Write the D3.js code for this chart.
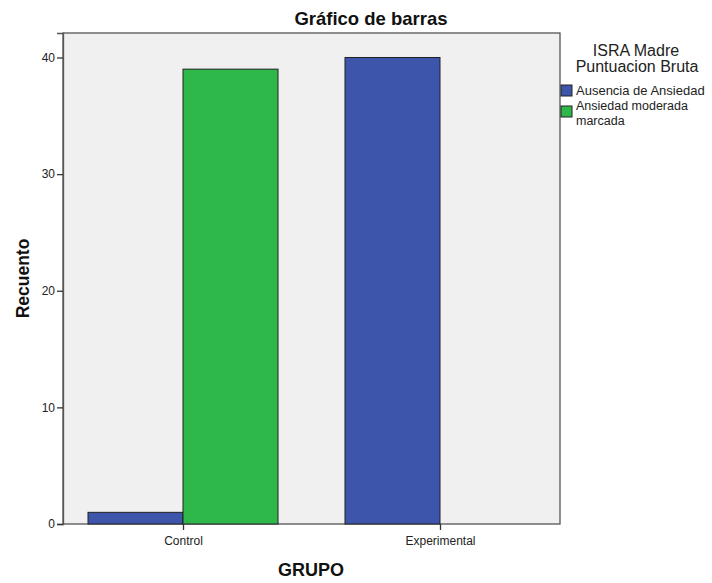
<!DOCTYPE html>
<html><head><meta charset="utf-8">
<script src="https://cdn.jsdelivr.net/npm/d3@7"></script>
<style>body{margin:0;background:#fff;font-family:"Liberation Sans",Arial,sans-serif;}</style>
</head><body>
<svg id="c" width="712" height="583"></svg>
<script>
const categories = ["Control", "Experimental"];
const seriesNames = ["Ausencia de Ansiedad", "Ansiedad moderada marcada"];
const ausencia = [1, 40];
const moderada = [39, 0];
const yTicks = [0, 10, 20, 30, 40];
const colors = ["#3d56ab", "#2eb84a"];

const svg = d3.select("#c");
const L = 63, R = 560, T = 33, B = 524;

const x = d3.scalePoint().domain(categories).range([L, R]).padding(0.467);
const sub = d3.scaleBand().domain(seriesNames).range([-95, 95]).padding(0);
const y = d3.scaleLinear().domain([0, 42.1]).range([B, T]);

svg.append("rect").attr("x", L).attr("y", T).attr("width", R - L).attr("height", B - T)
  .attr("fill", "#f0f0f0").attr("stroke", "#555").attr("stroke-width", 1.3);

const data = [];
categories.forEach((c, i) => {
  data.push({cat: c, s: seriesNames[0], v: ausencia[i], col: colors[0]});
  data.push({cat: c, s: seriesNames[1], v: moderada[i], col: colors[1]});
});

svg.append("g").selectAll("rect").data(data.filter(d => d.v > 0)).join("rect")
  .attr("x", d => x(d.cat) + sub(d.s))
  .attr("y", d => y(d.v))
  .attr("width", sub.bandwidth())
  .attr("height", d => y(0) - y(d.v))
  .attr("fill", d => d.col)
  .attr("stroke", "#222").attr("stroke-width", 1);

// y axis
const ya = svg.append("g").attr("transform", `translate(${L},0)`)
  .call(d3.axisLeft(y).tickValues(yTicks).tickSize(6).tickPadding(2).tickFormat(d3.format("d")));
ya.select(".domain").attr("stroke", "#555").attr("stroke-width", 1.3);
ya.selectAll(".tick line").attr("stroke", "#333").attr("stroke-width", 1.3);
ya.selectAll(".tick text").attr("font-size", 12).attr("fill", "#222").attr("font-family", "Liberation Sans, Arial, sans-serif");

// x axis
const xa = svg.append("g").attr("transform", `translate(0,${B})`)
  .call(d3.axisBottom(x).tickSize(6).tickPadding(6));
xa.select(".domain").remove();
xa.selectAll(".tick line").attr("stroke", "#333").attr("stroke-width", 1.3);
xa.selectAll(".tick text").attr("font-size", 12).attr("fill", "#222").attr("font-family", "Liberation Sans, Arial, sans-serif");

// titles
svg.append("text").attr("x", 371).attr("y", 25).attr("text-anchor", "middle")
  .attr("font-size", 18.5).attr("font-weight", "bold").attr("fill", "#111").text("Gráfico de barras");
svg.append("text").attr("x", 311).attr("y", 576).attr("text-anchor", "middle")
  .attr("font-size", 18).attr("font-weight", "bold").attr("fill", "#111").text("GRUPO");
svg.append("text").attr("transform", `translate(29,${(T + B) / 2}) rotate(-90)`).attr("text-anchor", "middle")
  .attr("font-size", 17.5).attr("font-weight", "bold").attr("fill", "#111").text("Recuento");

// legend
const lg = svg.append("g");
lg.append("text").attr("x", 636).attr("y", 56).attr("text-anchor", "middle").attr("font-size", 16).attr("fill", "#222").text("ISRA Madre");
lg.append("text").attr("x", 637).attr("y", 72).attr("text-anchor", "middle").attr("font-size", 16).attr("fill", "#222").text("Puntuacion Bruta");
lg.append("rect").attr("x", 561).attr("y", 85).attr("width", 11).attr("height", 11).attr("fill", colors[0]).attr("stroke", "#222");
lg.append("text").attr("x", 576).attr("y", 95).attr("font-size", 13).attr("fill", "#222").text("Ausencia de Ansiedad");
lg.append("rect").attr("x", 561).attr("y", 106).attr("width", 11).attr("height", 11).attr("fill", colors[1]).attr("stroke", "#222");
lg.append("text").attr("x", 576).attr("y", 110).attr("font-size", 12.5).attr("fill", "#222").text("Ansiedad moderada");
lg.append("text").attr("x", 576).attr("y", 124.5).attr("font-size", 12.5).attr("fill", "#222").text("marcada");
</script>
</body></html>
